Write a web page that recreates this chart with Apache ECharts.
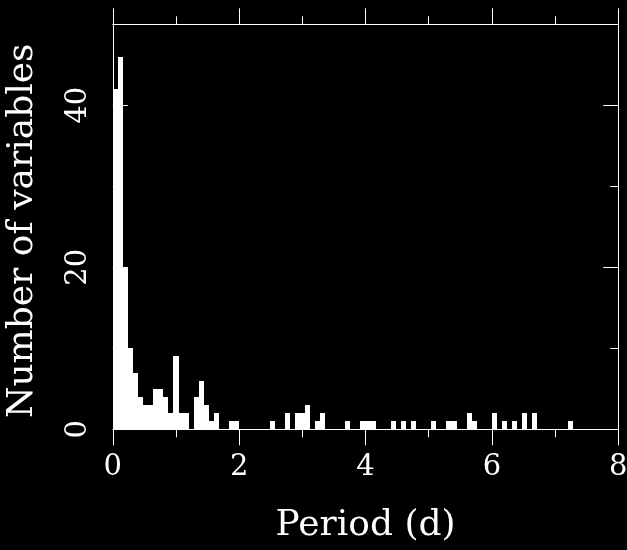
<!DOCTYPE html>
<html>
<head>
<meta charset="utf-8">
<script src="https://cdn.jsdelivr.net/npm/echarts@6/dist/echarts.min.js"></script>
<style>
html,body{margin:0;padding:0;background:#000;}
#c{width:627px;height:550px;}
</style>
</head>
<body>
<div id="c"></div>
<script>
// Histogram of periods (d), bin width 0.08 d starting at 0
const binWidth = 0.08;
const counts = [
  42,46,20,10,7,4,3,3,5,5,
  4,2,9,2,2,0,4,6,3,1,
  2,0,0,1,1,0,0,0,0,0,
  0,1,0,0,2,0,2,2,3,0,
  1,2,0,0,0,0,1,0,0,1,
  1,1,0,0,0,1,0,1,0,1,
  0,0,0,1,0,0,1,1,0,0,
  2,1,0,0,0,2,0,1,0,1,
  0,2,0,2,0,0,0,0,0,0,
  1,0,0,0,0,0,0,0,0,0
];
const xTicks = [0, 2, 4, 6, 8];
const yTicks = [0, 20, 40];
const xTitle = 'Period (d)';
const yTitle = 'Number of variables';

const bins = counts.map((c, k) => [k * binWidth, (k + 1) * binWidth, c]);

const font = 'DejaVu Serif';
const lineStyle = {color: '#ffffff', width: 1};

function frameAxis(extra) {
  return Object.assign({
    type: 'value',
    axisLine: {show: true, onZero: false, lineStyle: lineStyle},
    axisTick: {show: true, inside: false, length: 16, lineStyle: lineStyle},
    minorTick: {show: true, splitNumber: 2, length: 8, lineStyle: lineStyle},
    splitLine: {show: false},
    minorSplitLine: {show: false},
    axisLabel: {show: false}
  }, extra);
}

const chart = echarts.init(document.getElementById('c'), null, {renderer: 'canvas'});
chart.setOption({
  backgroundColor: '#000000',
  animation: false,
  grid: {left: 112.8, right: 8.7, top: 24.3, bottom: 120.7, containLabel: false, outerBoundsMode: 'none'},
  xAxis: [
    frameAxis({
      position: 'bottom', min: 0, max: 8, interval: 2,
      axisLabel: {show: true, color: '#fff', fontFamily: font, fontSize: 29, margin: 24,
        formatter: v => (xTicks.indexOf(v) >= 0 ? String(v) : '')},
      name: xTitle, nameLocation: 'middle', nameGap: 78,
      nameTextStyle: {color: '#fff', fontFamily: font, fontSize: 36}
    }),
    frameAxis({position: 'top', min: 0, max: 8, interval: 2})
  ],
  yAxis: [
    frameAxis({
      position: 'left', min: 0, max: 50, interval: 20,
      axisTick: {show: true, inside: true, length: 15, lineStyle: lineStyle},
      axisLabel: {
        show: true, color: '#fff', fontFamily: font, fontSize: 29, margin: 20, rotate: 90,
        formatter: v => (yTicks.indexOf(v) >= 0 ? String(v) : '')
      },
      name: yTitle, nameLocation: 'middle', nameGap: 72, nameRotate: 90,
      nameTextStyle: {color: '#fff', fontFamily: font, fontSize: 36, padding: [0, 8, 0, 0]}
    }),
    frameAxis({
      position: 'right', min: 0, max: 50, interval: 20,
      axisTick: {show: true, inside: true, length: 15, lineStyle: lineStyle}
    })
  ],
  series: [{
    type: 'custom',
    xAxisIndex: 0, yAxisIndex: 0,
    data: bins,
    encode: {x: [0, 1], y: 2},
    renderItem: function (params, api) {
      const p0 = api.coord([api.value(0), api.value(2)]);
      const p1 = api.coord([api.value(1), 0]);
      const x0 = Math.round(p0[0]), x1 = Math.round(p1[0]);
      const y0 = Math.round(p0[1]), y1 = Math.round(p1[1]);
      return {
        type: 'rect',
        shape: {x: x0, y: y0, width: x1 - x0, height: y1 - y0},
        style: {fill: '#ffffff'}
      };
    }
  }]
});
</script>
</body>
</html>
